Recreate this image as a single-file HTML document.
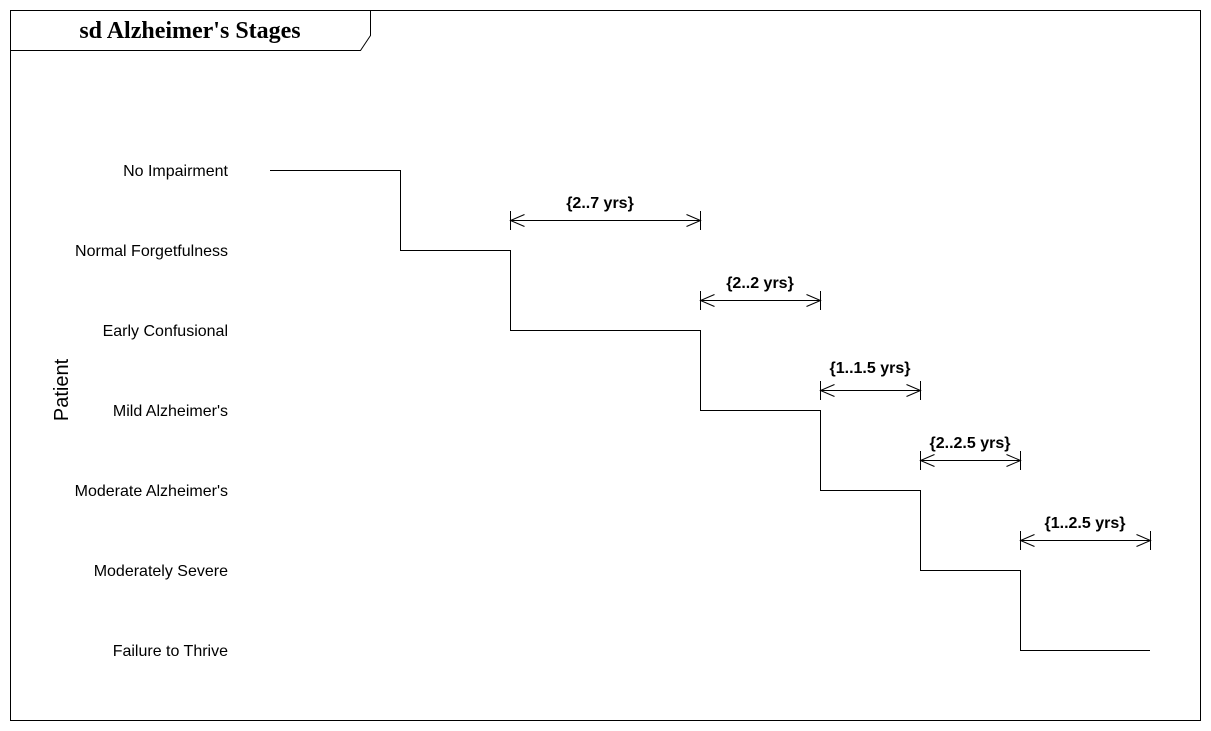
<!DOCTYPE html>
<html><head><meta charset="utf-8"><style>html,body{margin:0;padding:0;background:#fff}svg{display:block}</style></head>
<body>
<svg width="1211" height="731" viewBox="0 0 1211 731" xmlns="http://www.w3.org/2000/svg">
<rect x="10.5" y="10.5" width="1190" height="710" fill="#fff" stroke="#000"/>
<path d="M10.5 50.5 H360.5 L370.5 35.5 V10.5" fill="none" stroke="#000"/>
<text x="190" y="38" text-anchor="middle" font-family="Liberation Serif, serif" font-weight="bold" font-size="24">sd Alzheimer's Stages</text>
<g font-family="Liberation Sans, sans-serif" font-size="16" text-anchor="end">
<text x="228" y="176">No Impairment</text>
<text x="228" y="256">Normal Forgetfulness</text>
<text x="228" y="336">Early Confusional</text>
<text x="228" y="416">Mild Alzheimer's</text>
<text x="228" y="496">Moderate Alzheimer's</text>
<text x="228" y="576">Moderately Severe</text>
<text x="228" y="656">Failure to Thrive</text>
</g>
<text transform="translate(68,390) rotate(-90)" text-anchor="middle" font-family="Liberation Sans, sans-serif" font-size="20">Patient</text>
<path d="M270 170.5 H400.5 V250.5 H510.5 V330.5 H700.5 V410.5 H820.5 V490.5 H920.5 V570.5 H1020.5 V650.5 H1150" fill="none" stroke="#000"/>
<g stroke="#000" fill="none">
<path d="M510.5 211 V230 M700.5 211 V230 M510.5 220.5 H700.5 M524.5 214.5 L510.5 220.5 L524.5 226.5 M686.5 214.5 L700.5 220.5 L686.5 226.5"/>
<path d="M700.5 291 V310 M820.5 291 V310 M700.5 300.5 H820.5 M714.5 294.5 L700.5 300.5 L714.5 306.5 M806.5 294.5 L820.5 300.5 L806.5 306.5"/>
<path d="M820.5 381 V400 M920.5 381 V400 M820.5 390.5 H920.5 M834.5 384.5 L820.5 390.5 L834.5 396.5 M906.5 384.5 L920.5 390.5 L906.5 396.5"/>
<path d="M920.5 451 V470 M1020.5 451 V470 M920.5 460.5 H1020.5 M934.5 454.5 L920.5 460.5 L934.5 466.5 M1006.5 454.5 L1020.5 460.5 L1006.5 466.5"/>
<path d="M1020.5 531 V550 M1150.5 531 V550 M1020.5 540.5 H1150.5 M1034.5 534.5 L1020.5 540.5 L1034.5 546.5 M1136.5 534.5 L1150.5 540.5 L1136.5 546.5"/>
</g>
<g font-family="Liberation Sans, sans-serif" font-size="16" font-weight="bold" text-anchor="middle">
<text x="600" y="208">{2..7 yrs}</text>
<text x="760" y="288">{2..2 yrs}</text>
<text x="870" y="373">{1..1.5 yrs}</text>
<text x="970" y="448">{2..2.5 yrs}</text>
<text x="1085" y="528">{1..2.5 yrs}</text>
</g>
</svg>
</body></html>
